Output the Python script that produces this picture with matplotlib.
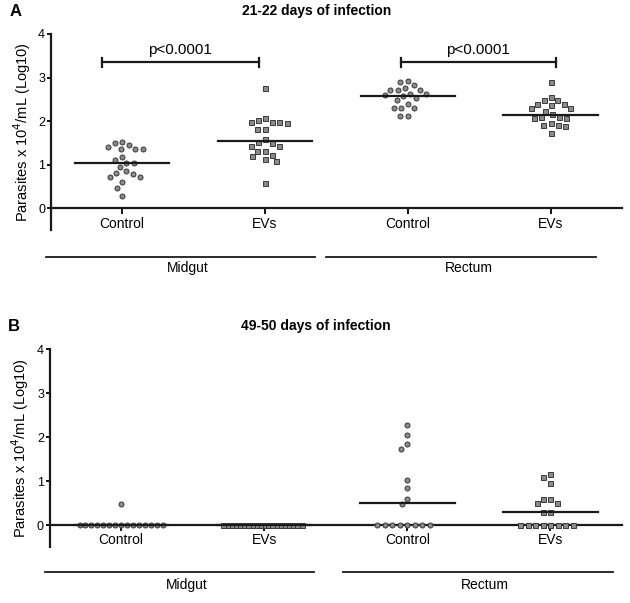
# -*- coding: utf-8 -*-
"""Parasite load in midgut and rectum, EVs vs control (21-22 and 49-50 days)."""

import numpy as np
import matplotlib.pyplot as plt
from matplotlib.transforms import blended_transform_factory

plt.rcParams['font.family'] = ['Liberation Sans', 'DejaVu Sans']

groups = ['Control', 'EVs', 'Control', 'EVs']
tissues = ['Midgut', 'Rectum']
ylab = 'Parasites x 10$^4$/mL (Log10)'

# panel A: 21-22 days of infection
a_mid_ctrl = [1.45, 1.52, 1.49, 1.35, 1.35, 1.35, 1.41, 1.18, 1.04, 1.04,
              1.10, 0.95, 0.80, 0.86, 0.72, 0.72, 0.78, 0.60, 0.47, 0.29]
a_mid_evs = [2.77, 2.06, 1.99, 1.95, 1.97, 2.03, 1.97, 1.81, 1.81, 1.58,
             1.51, 1.50, 1.44, 1.44, 1.31, 1.31, 1.23, 1.13, 1.09, 1.19, 0.58]
a_rec_ctrl = [2.92, 2.90, 2.82, 2.76, 2.71, 2.63, 2.60, 2.54, 2.58, 2.63,
              2.71, 2.71, 2.48, 2.39, 2.29, 2.30, 2.30, 2.11, 2.11]
a_rec_evs = [2.90, 2.48, 2.55, 2.49, 2.39, 2.31, 2.36, 2.40, 2.31, 2.24,
             2.17, 2.10, 2.06, 2.10, 2.08, 1.96, 1.90, 1.92, 1.88, 1.73]
a_medians = [1.03, 1.55, 2.58, 2.15]

# panel B: 49-50 days of infection
b_mid_ctrl = [0.47, 0, 0, 0, 0, 0, 0, 0, 0, 0, 0, 0, 0, 0, 0, 0]
b_mid_evs = [0, 0, 0, 0, 0, 0, 0, 0, 0, 0, 0, 0, 0, 0, 0, 0, 0, 0, 0, 0]
b_rec_ctrl = [2.27, 2.05, 1.73, 1.83, 1.03, 0.83, 0.60, 0.47,
              0, 0, 0, 0, 0, 0, 0, 0]
b_rec_evs = [1.16, 1.10, 0.95, 0.49, 0.60, 0.60, 0.50, 0.30, 0.30,
             0, 0, 0, 0, 0, 0, 0, 0]
b_medians = [0.0, 0.0, 0.49, 0.30]

p_text = 'p<0.0001'

PX_X = 142.8   # pixels per x unit
PX_Y = 43.6    # pixels per y unit


def swarm(vals, d=7.5, maxw=0.29):
    # simple beeswarm in pixel space, then squeeze to max half width
    ys = np.asarray(vals, dtype=float) * PX_Y
    order = np.argsort(-ys)
    placed = []
    off = np.zeros(len(ys))
    for i in order:
        cands = [0.0]
        for xj, yj in placed:
            dy = abs(ys[i] - yj)
            if dy < d:
                dx = np.sqrt(d * d - dy * dy)
                cands += [xj - dx, xj + dx]
        cands.sort(key=abs)
        for c in cands:
            ok = all((c - xj) ** 2 + (ys[i] - yj) ** 2 >= d * d - 1e-6
                     for xj, yj in placed)
            if ok:
                off[i] = c
                placed.append((c, ys[i]))
                break
    off = off / PX_X
    if np.abs(off).max() > maxw:
        off *= maxw / np.abs(off).max()
    return off


def draw_panel(ax, data, medians, title, letter, gline, glabel_y):
    pos = np.arange(1, 5)
    markers = ['o', 's', 'o', 's']
    for x, vals, m in zip(pos, data, markers):
        ax.plot(x + swarm(vals), vals, ls='none', marker=m, ms=3.6,
                mfc='#8a8a8a', mec='#3a3a3a', mew=0.7, zorder=3,
                clip_on=False)
    for x, med in zip(pos, medians):
        ax.plot([x - 0.33, x + 0.33], [med, med], color='#1a1a1a', lw=1.6,
                zorder=4)

    ax.set_xlim(0.5, 4.5)
    ax.set_ylim(-0.5, 4)
    ax.set_yticks([0, 1, 2, 3, 4])
    ax.set_xticks(pos)
    ax.set_xticklabels(groups, fontsize=10)
    ax.tick_params(axis='y', labelsize=9, length=3, width=1.3, pad=1)
    ax.tick_params(axis='x', length=4, width=1.3, pad=2)
    for s in ['top', 'right']:
        ax.spines[s].set_visible(False)
    ax.spines['bottom'].set_position(('data', 0))
    for s in ['left', 'bottom']:
        ax.spines[s].set_linewidth(1.6)
        ax.spines[s].set_color('#1a1a1a')
    ax.set_ylabel(ylab, fontsize=10.5, labelpad=4)
    ax.set_title(title, fontsize=10, fontweight='bold', pad=14, x=0.465)
    ax.text(-0.072, 1.115, letter, transform=ax.transAxes, fontsize=12,
            fontweight='bold', ha='left', va='center')

    # tissue group lines underneath
    tr = blended_transform_factory(ax.transData, ax.transAxes)
    for (x1, x2), name in zip(gline, tissues):
        ax.plot([x1, x2], [glabel_y[0], glabel_y[0]], color='#1a1a1a',
                lw=1.3, transform=tr, clip_on=False)
        ax.text((x1 + x2) / 2 + 0.05, glabel_y[1], name, transform=tr,
                ha='center', va='center', fontsize=10)


fig = plt.figure(figsize=(6.3, 6.03), dpi=100)
axA = fig.add_axes([50.7 / 630, 1 - 230 / 603, 571.3 / 630, 196 / 603])
axB = fig.add_axes([49.5 / 630, 1 - 547 / 603, 572.5 / 630, 198 / 603])

draw_panel(axA, [a_mid_ctrl, a_mid_evs, a_rec_ctrl, a_rec_evs], a_medians,
           '21-22 days of infection', 'A',
           [(0.47, 2.35), (2.43, 4.32)], (-0.138, -0.194))
draw_panel(axB, [b_mid_ctrl, b_mid_evs, b_rec_ctrl, b_rec_evs], b_medians,
           '49-50 days of infection', 'B',
           [(0.47, 2.35), (2.55, 4.44)], (-0.126, -0.192))

# significance brackets in panel A
for x1, x2 in [(0.86, 1.955), (2.95, 4.04)]:
    axA.plot([x1, x2], [3.35, 3.35], color='#1a1a1a', lw=1.6)
    for x in (x1, x2):
        axA.plot([x, x], [3.25, 3.45], color='#1a1a1a', lw=1.6)
    axA.text((x1 + x2) / 2, 3.63, p_text, ha='center', va='center',
             fontsize=11)

fig.savefig('out.png', dpi=100)
